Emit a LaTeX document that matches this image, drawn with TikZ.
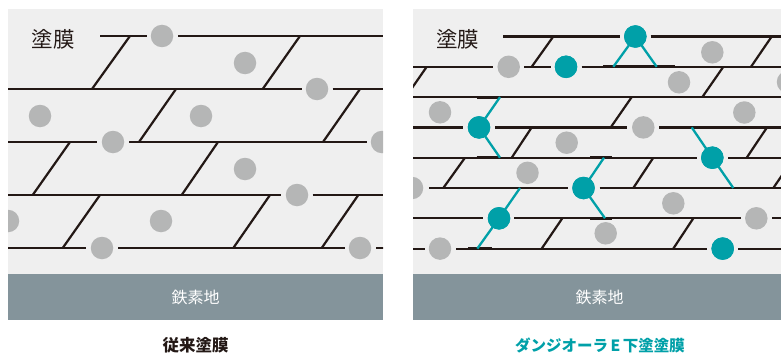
\documentclass[tikz,border=0pt]{standalone}
\usepackage{fontspec}
\newfontfamily\jp{Noto Sans CJK JP}
\definecolor{bgc}{HTML}{EFEFEF}
\definecolor{ink}{HTML}{231815}
\definecolor{dotc}{HTML}{B5B6B6}
\definecolor{steel}{HTML}{84949B}
\definecolor{tealc}{HTML}{00A0A8}
\tikzset{
  ln/.style={ink, line width=2.2},
  thk/.style={ink, line width=2.8},
  tl/.style={tealc, line width=2.3},
  gdot/.style={circle, fill=dotc, minimum size=22.5, inner sep=0},
  tdot/.style={circle, fill=tealc, minimum size=22.5, inner sep=0},
  lbl/.style={font=\jp\fontsize{21.5}{22}\selectfont, text=ink, inner sep=0},
  base/.style={font=\jp\fontsize{16}{17}\selectfont, text=white, inner sep=0},
}
\begin{document}
\begin{tikzpicture}[x=1pt,y=-1pt]
\useasboundingbox (0,0) rectangle (781,353);
% ---------------- left panel ----------------
\fill[steel] (8,274) rectangle (383,320);
\begin{scope}
\clip (8,9) rectangle (383,274);
\fill[bgc] (8,9) rectangle (383,274);
\foreach \a/\b/\y in {100/147/36, 178/383/36, 8/301.7/89, 332.7/383/89, 8/97/142, 129/366.7/142, 8/280.7/195, 312.7/383/195, 8/86/248, 118/345/248, 376/390/248}
  \draw[ln] (\a,\y) -- (\b,\y);
\foreach \a/\ya/\b/\yb in {130/36/92/89, 300/36/262.7/89, 176/89/139/142, 360/89/323/142, 70/142/32.7/195, 218/142/181.7/195, 100/195/62.7/248, 270/195/233.3/248, 358.3/195/321.7/248}
  \draw[ln] (\a,\ya) -- (\b,\yb);
\node[gdot] (la1) at (162,36) {};
\node[gdot] (la2) at (317,89) {};
\node[gdot] (la3) at (113,142) {};
\node[gdot] (la4) at (382,142) {};
\node[gdot] (la5) at (297,195) {};
\node[gdot] (la6) at (102,248) {};
\node[gdot] (la7) at (360,248) {};
\node[gdot] (lb1) at (245,63) {};
\node[gdot] (lb2) at (40,116) {};
\node[gdot] (lb3) at (201,116) {};
\node[gdot] (lb4) at (245,169) {};
\node[gdot] (lb5) at (8,221) {};
\node[gdot] (lb6) at (161,221) {};
\end{scope}
\node[lbl] (lcoat) at (53,39) {塗膜};
\node[base] (lbase) at (195.5,297) {鉄素地};
\node[font=\jp\bfseries\fontsize{16.5}{17}\selectfont, text=ink, inner sep=0] (ltitle) at (195.5,345) {従来塗膜};
% ---------------- right panel ----------------
\fill[steel] (413,274) rectangle (781,320);
\begin{scope}
\clip (413,9) rectangle (781,274);
\fill[bgc] (413,9) rectangle (781,274);
\def\ra{36.5}\def\rb{66.8}\def\rc{97.1}\def\rd{127.4}
\def\re{157.7}\def\rf{188}\def\rg{218.3}\def\rh{248.6}
\foreach \a/\b/\y in {503.3/620/\ra, 650.7/790/\ra,
  405/493.3/\rb, 524/550.7/\rb, 581.7/790/\rb,
  405/790/\rc,
  405/463.3/\rd, 495/626.7/\rd, 659/790/\rd,
  405/696.7/\re, 728.3/790/\re,
  429.3/567.5/\rf, 599.5/790/\rf,
  405/482.7/\rg, 514.3/740.7/\rg, 772/790/\rg,
  405/425/\rh, 456/706.7/\rh, 738.3/790/\rh}
  \draw[ln] (\a,\y) -- (\b,\y);
\foreach \a/\b/\y in {603/675/\rb, 476.7/500/\rc, 680/703/\rd, 476.7/500/\re, 590/611.7/\re, 506.7/530/\rf, 715/735/\rf, 590/611.7/\rg, 468.3/491.7/\rh}
  \draw[thk] (\a,\y) -- (\b,\y);
\foreach \a/\ya/\b/\yb in {553.3/\ra/531.7/\rb, 771.7/\ra/751/\rb,
  426.7/\rb/405.7/\rc, 723.3/\rb/702.3/\rc,
  631.7/\rc/610.7/\rd,
  531.7/\rd/511.7/\re, 767/\rd/746.7/\re,
  465/\re/443.3/\rf, 653.3/\re/633.3/\rf, 794/\re/773.3/\rf,
  562.3/\rg/541.7/\rh, 693.3/\rg/673.3/\rh}
  \draw[ln] (\a,\ya) -- (\b,\yb);
% teal dots
\node[tdot] (t1) at (635.3,\ra) {};
\node[tdot] (t2) at (566,\rb) {};
\node[tdot] (t3) at (479,\rd) {};
\node[tdot] (t4) at (712.3,\re) {};
\node[tdot] (t5) at (583.5,\rf) {};
\node[tdot] (t6) at (499,\rg) {};
\node[tdot] (t7) at (722.7,\rh) {};
\coordinate (t1a) at (613.3,\rb); \coordinate (t1b) at (656.7,\rb);
\coordinate (t3a) at (500,\rc);   \coordinate (t3b) at (500,\re);
\coordinate (t4a) at (691.7,\rd); \coordinate (t4b) at (733.3,\rf);
\coordinate (t5a) at (604,\re);   \coordinate (t5b) at (605,\rg);
\coordinate (t6a) at (520,\rf);   \coordinate (t6b) at (477.3,\rh);
\draw[tl] (t1a) -- (t1.center) -- (t1b);
\draw[tl] (t3a) -- (t3.center) -- (t3b);
\draw[tl] (t4a) -- (t4.center) -- (t4b);
\draw[tl] (t5a) -- (t5.center) -- (t5b);
\draw[tl] (t6a) -- (t6.center) -- (t6b);
\foreach \n in {t1,t2,t3,t4,t5,t6,t7} \fill[tealc] (\n) circle (11.25);
% gray dots
\node[gdot] (ra1) at (508.7,\rb) {};
\node[gdot] (ra2) at (643.3,\rd) {};
\node[gdot] (ra3) at (412,\rf) {};
\node[gdot] (ra4) at (756.3,\rg) {};
\node[gdot] (ra5) at (440,\rh) {};
\node[gdot] (rb1) at (712.3,52.3) {};
\node[gdot] (rb2) at (679,82.3) {};
\node[gdot] (rb3) at (788,82) {};
\node[gdot] (rb4) at (440,112.3) {};
\node[gdot] (rb5) at (744.3,112.5) {};
\node[gdot] (rb6) at (566.7,142.7) {};
\node[gdot] (rb7) at (527.5,172.8) {};
\node[gdot] (rb8) at (673.3,203.3) {};
\node[gdot] (rb9) at (605.7,233.3) {};
\end{scope}
\node[lbl] (rcoat) at (457.5,39) {塗膜};
\node[base] (rbase) at (599.5,297) {鉄素地};
\node[font=\jp\bfseries\fontsize{15.5}{17}\selectfont, text=tealc, inner sep=0] (rtitle) at (600,345) {ダンジオーラ\kern2.5pt E\kern2.5pt 下塗塗膜};
\end{tikzpicture}
\end{document}
